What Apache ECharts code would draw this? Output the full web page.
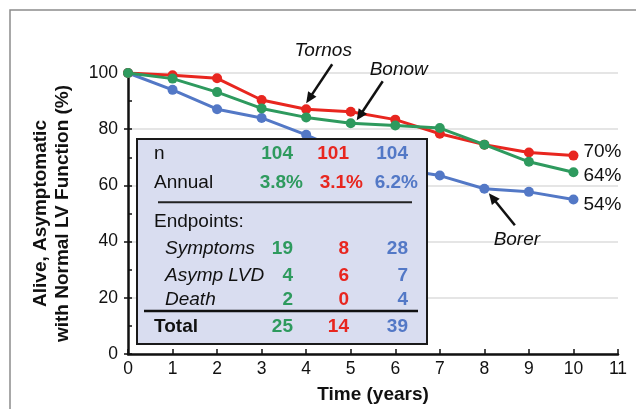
<!DOCTYPE html>
<html><head><meta charset="utf-8">
<script src="https://cdn.jsdelivr.net/npm/echarts@6/dist/echarts.min.js"></script>
<style>html,body{margin:0;padding:0;background:#fff}#c{width:636px;height:409px}</style>
</head><body><div id="c"></div>
<script>
// ---- data ----
const years = [0, 1, 2, 3, 4, 5, 6, 7, 8, 9, 10];
const tornos = [100, 99.2, 98.1, 90.4, 87.1, 86.2, 83.4, 78.4, 74.5, 71.7, 70.6];
const bonow  = [100, 98.0, 93.2, 87.4, 84.2, 82.1, 81.3, 80.4, 74.5, 68.4, 64.7];
const borer  = [100, 94.0, 87.1, 84.0, 78.0, 71.0, 66.0, 63.5, 58.8, 57.7, 55.0];
const endLabelTornos = '70%';
const endLabelBonow = '64%';
const endLabelBorer = '54%';

// table (column order: Bonow / Tornos / Borer)
const tableN = ['104', '101', '104'];
const tableAnnual = ['3.8%', '3.1%', '6.2%'];
const tableSymptoms = ['19', '8', '28'];
const tableAsympLVD = ['4', '6', '7'];
const tableDeath = ['2', '0', '4'];
const tableTotal = ['25', '14', '39'];

const GREEN = '#2e9a5e', RED = '#e8261f', BLUE = '#5378c6';
const FONT = 'Liberation Sans, Arial, Helvetica, sans-serif';
const pairs = arr => years.map((x, i) => [x, arr[i]]);

const chart = echarts.init(document.getElementById('c'), null, {renderer: 'canvas'});

function lineSeries(name, data, color, label, dy, z) {
  return {
    name, type: 'line', data: pairs(data), z,
    symbol: 'circle', symbolSize: 10,
    lineStyle: {color, width: 3}, itemStyle: {color},
    emphasis: {disabled: true}, animation: false,
    endLabel: {show: true, formatter: () => label, color: '#111', fontSize: 19,
      fontFamily: FONT, distance: 10, offset: [0, dy]}
  };
}

chart.setOption({
  animation: false,
  grid: {left: 128, right: 18, top: 73, bottom: 54},
  xAxis: {
    type: 'value', min: 0, max: 11, interval: 1,
    name: 'Time (years)', nameLocation: 'middle', nameGap: 31,
    nameTextStyle: {fontSize: 19, fontWeight: 'bold', color: '#111', fontFamily: FONT},
    axisLine: {lineStyle: {color: '#111', width: 2.5}},
    axisTick: {inside: true, length: 5, lineStyle: {color: '#111', width: 1.5}},
    axisLabel: {fontSize: 17.5, color: '#111', fontFamily: FONT, margin: 6},
    splitLine: {show: false}
  },
  yAxis: [{
    type: 'value', min: 0, max: 100, interval: 20,
    name: 'Alive, Asymptomatic\nwith Normal LV Function (%)',
    nameLocation: 'middle', nameRotate: 90, nameGap: 54,
    nameTextStyle: {fontSize: 19, fontWeight: 'bold', lineHeight: 22, color: '#111', fontFamily: FONT},
    axisLine: {lineStyle: {color: '#111', width: 2.5}},
    axisTick: {length: 4, lineStyle: {color: '#111', width: 1.5}},
    axisLabel: {fontSize: 17.5, color: '#111', fontFamily: FONT, margin: 10},
    splitLine: {lineStyle: {color: '#dcdcdc', width: 1.5}}
  }, {
    type: 'value', min: 0, max: 100, interval: 10, position: 'left',
    axisLine: {show: false}, axisLabel: {show: false}, splitLine: {show: false},
    axisTick: {inside: true, length: 4, lineStyle: {color: '#111', width: 1.5}}
  }],
  series: [
    lineSeries('Borer', borer, BLUE, endLabelBorer, 5, 2),
    lineSeries('Tornos', tornos, RED, endLabelTornos, -4, 3),
    lineSeries('Bonow', bonow, GREEN, endLabelBonow, 4, 4)
  ]
});

// ---- graphics: frame, table, annotations ----
function arrow(tip, tail) {
  const dx = tip[0] - tail[0], dy = tip[1] - tail[1];
  const L = Math.hypot(dx, dy), ux = dx / L, uy = dy / L;
  const hl = 11, hw = 5;
  const bx = tip[0] - ux * hl, by = tip[1] - uy * hl;
  return [
    {type: 'line', z: 50, shape: {x1: tail[0], y1: tail[1], x2: bx + ux, y2: by + uy},
      style: {stroke: '#111', lineWidth: 2.5}},
    {type: 'polygon', z: 50, shape: {points: [tip, [bx - uy * hw, by + ux * hw], [bx + uy * hw, by - ux * hw]]},
      style: {fill: '#111'}}
  ];
}
function txt(text, x, y, o) {
  o = o || {};
  return {type: 'text', z: 101, style: {text, x, y, fill: o.fill || '#111',
    fontSize: o.size || 19, fontFamily: FONT, fontWeight: o.weight || 'normal',
    fontStyle: o.style || 'normal', align: o.align || 'left', verticalAlign: 'middle'}};
}

const pTornos = chart.convertToPixel({seriesIndex: 1}, [years[4], tornos[4]]);
const pBonow = chart.convertToPixel({seriesIndex: 2}, [years[5], bonow[5]]);
const pBorer = chart.convertToPixel({seriesIndex: 0}, [years[8], borer[8]]);
const tipT = [pTornos[0], pTornos[1] - 6];
const tipB = [pBonow[0] + 6, pBonow[1] - 3];
const tipR = [pBorer[0] + 4.5, pBorer[1] + 4.5];

const els = [];
els.push({type: 'rect', z: 0, silent: true, shape: {x: 10, y: 10, width: 700, height: 500},
  style: {fill: 'none', stroke: '#8c8c8c', lineWidth: 1.5}});
els.push(...arrow(tipT, [tipT[0] + 26, tipT[1] - 39]));
els.push(...arrow(tipB, [tipB[0] + 26, tipB[1] - 39]));
els.push(...arrow(tipR, [tipR[0] + 26, tipR[1] + 32]));
els.push(txt('Tornos', tipT[0] + 17, tipT[1] - 53, {style: 'italic', align: 'center'}));
els.push(txt('Bonow', tipB[0] + 42, tipB[1] - 51, {style: 'italic', align: 'center'}));
els.push(txt('Borer', tipR[0] + 28, tipR[1] + 46, {style: 'italic', align: 'center'}));

// table
els.push({type: 'rect', z: 100, shape: {x: 137, y: 139, width: 290, height: 205},
  style: {fill: '#d9ddf0', stroke: '#1a1a1a', lineWidth: 2}});
const cols = [293, 349, 408], colors = [GREEN, RED, BLUE];
const annualRight = [303, 363, 418];
const rows = [
  ['n', 154, 154, tableN, 'normal'],
  ['Symptoms', 165, 248.3, tableSymptoms, 'italic'],
  ['Asymp LVD', 165, 276, tableAsympLVD, 'italic'],
  ['Death', 165, 299.3, tableDeath, 'italic']
];
rows.forEach(([lab, lx, y, vals, st]) => {
  els.push(txt(lab, lx, y, {style: st}));
  vals.forEach((v, i) => els.push(txt(v, cols[i], y, {fill: colors[i], weight: 'bold', align: 'right'})));
});
els.push(txt('Annual', 154, 182.7));
tableAnnual.forEach((v, i) => els.push(txt(v, annualRight[i], 182.7, {fill: colors[i], weight: 'bold', align: 'right'})));
els.push(txt('Endpoints:', 154, 221.7));
els.push(txt('Total', 154, 326.7, {weight: 'bold'}));
tableTotal.forEach((v, i) => els.push(txt(v, cols[i], 326.7, {fill: colors[i], weight: 'bold', align: 'right'})));
els.push({type: 'line', z: 101, shape: {x1: 158, y1: 202.3, x2: 412, y2: 202.3}, style: {stroke: '#222', lineWidth: 2}});
els.push({type: 'line', z: 101, shape: {x1: 144, y1: 311, x2: 418, y2: 311}, style: {stroke: '#111', lineWidth: 2.5}});

chart.setOption({graphic: {elements: els}});
</script>
</body></html>
